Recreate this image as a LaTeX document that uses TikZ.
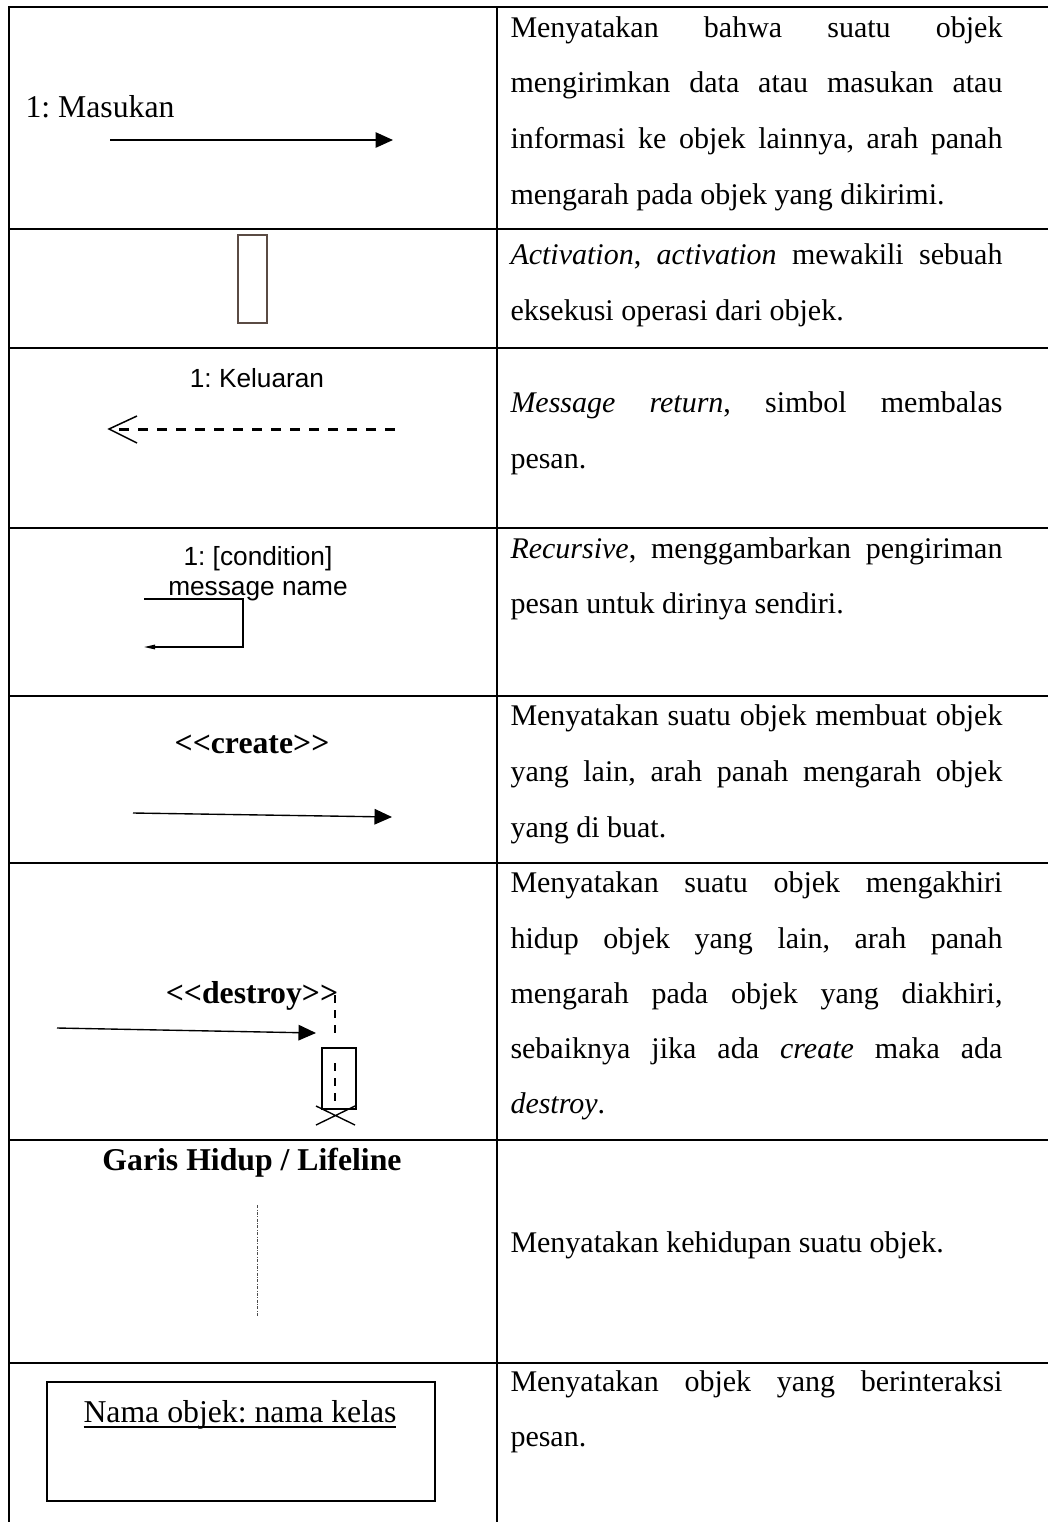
\documentclass[tikz,border=0pt]{standalone}
\usepackage{fontspec}
\setmainfont{Liberation Serif}
\newfontfamily\arialfont{Liberation Sans}
\usetikzlibrary{arrows.meta}
\frenchspacing
\definecolor{actcol}{RGB}{90,75,68}
% guillemet-free stereotype brackets
\newcommand\stereo[1]{<\kern0pt<#1>\kern0pt>}
% underline sitting just below the baseline
\newcommand\ulin[1]{\setbox0\hbox{#1}\rlap{\rule[-2.3pt]{\wd0}{0.55pt}}\box0}
\tikzset{
  tabline/.style={line width=0.8pt, line cap=rect},
  body/.style={anchor=base west, inner sep=0pt, font=\fontsize{12}{14}\selectfont},
  sym/.style={inner sep=0pt, anchor=base, font=\fontsize{12.7}{15}\selectfont},
  symb/.style={inner sep=0pt, anchor=base, font=\fontsize{12.7}{15}\selectfont\bfseries},
  sans/.style={inner sep=0pt, anchor=base, font=\arialfont\fontsize{10.5}{12}\selectfont},
  msg/.style={line width=0.55pt, -{Triangle[length=7pt,width=6.2pt]}},
  thin/.style={line width=0.55pt},
}
% justified and plain lines of the description column
\newcommand\jl[3]{\node[body] (#1) at (510,#2) {\makebox[196.8pt][s]{#3}};}
\newcommand\pl[3]{\node[body] (#1) at (510,#2) {#3};}
\begin{document}
\begin{tikzpicture}[x=0.4pt,y=-0.4pt]
\useasboundingbox (0,0) rectangle (1048,1522);

% table rules
\foreach \yy in {7,229,348,528,696,863,1140,1363}
  \draw[tabline] (9,\yy) -- (1048,\yy);
\draw[tabline] (9,7) -- (9,1522);
\draw[tabline] (497,7) -- (497,1522);

% row 1: message
\node[sym, anchor=base west] (masukan) at (25,117) {1: Masukan};
\coordinate (m1s) at (110,140);
\coordinate (m1e) at (393,140);
\draw[msg] (m1s) -- (m1e);

% row 2: activation
\node[draw=actcol, thin, minimum width=11.6pt, minimum height=35.2pt, inner sep=0pt] (act) at (252.5,279) {};

% row 3: message return
\node[sans] (keluaran) at (257,387) {1: Keluaran};
\coordinate (r3s) at (395,429);
\coordinate (r3e) at (112,429);
\coordinate (r3tip) at (109,429);
\coordinate (r3up) at (137,416);
\coordinate (r3dn) at (137,443);
\draw[line width=1.2pt, dash pattern=on 4pt off 3.6pt] (r3s) -- (r3e);
\draw[line width=0.6pt] (r3up) -- (r3tip) -- (r3dn);

% row 4: recursive
\node[sans] (cond) at (258,565) {1: [condition]};
\node[sans] (msgname) at (258,595) {message name};
\coordinate (rc0) at (144,599);
\coordinate (rc1) at (243,599);
\coordinate (rc2) at (243,647);
\coordinate (rc3) at (144,647);
\draw[line width=0.5pt, -{Triangle[length=4.4pt,width=1.8pt]}] (rc0) -- (rc1) -- (rc2) -- (rc3);

% row 5: create
\node[symb] (create) at (252,753) {\stereo{create}};
\coordinate (c0) at (133,813);
\coordinate (c1) at (392,817);
\draw[msg] (c0) -- (c1);

% row 6: destroy
\node[symb] (destroy) at (252,1003) {\stereo{destroy}};
\coordinate (d0) at (57,1028);
\coordinate (d1) at (316,1033);
\draw[msg] (d0) -- (d1);
\node[draw, thin, minimum width=13.6pt, minimum height=24.4pt, inner sep=0pt] (dbox) at (339,1078.5) {};
\coordinate (dl0) at (335,995);
\coordinate (dl1) at (335,1038);
\coordinate (dl2) at (335,1063);
\coordinate (dl3) at (335,1108);
\draw[line width=0.5pt, dash pattern=on 3.2pt off 2.8pt] (dl0) -- (dl1);
\draw[line width=0.5pt, dash pattern=on 3.2pt off 2.8pt] (dl2) -- (dl3);
\coordinate (x0) at (316,1106);
\coordinate (x1) at (355,1125);
\coordinate (x2) at (316,1125);
\coordinate (x3) at (355,1106);
\draw[thin] (x0) -- (x1) (x2) -- (x3);

% row 7: lifeline
\node[symb] (lifelbl) at (252,1170) {Garis Hidup / Lifeline};
\coordinate (ll0) at (257,1205);
\coordinate (ll1) at (257,1317);
\draw[line width=0.3pt, black!70, dash pattern=on 1.2pt off 0.6pt on 0.3pt off 0.6pt] (ll0) -- (ll1);

% row 8: object
\node[draw, line width=0.7pt, minimum width=155.2pt, minimum height=47.6pt, inner sep=0pt] (objbox) at (241,1441.5) {};
\node[sym] (objname) at (240,1422) {\ulin{Nama objek: nama kelas}};

% description column
\jl{t1a}{37}{Menyatakan bahwa suatu objek}
\jl{t1b}{92}{mengirimkan data atau masukan atau}
\jl{t1c}{148}{informasi ke objek lainnya, arah panah}
\pl{t1d}{204}{mengarah pada objek yang dikirimi.}

\jl{t2a}{264}{\textit{Activation}, \textit{activation} mewakili sebuah}
\pl{t2b}{320}{eksekusi operasi dari objek.}

\jl{t3a}{412}{\textit{Message return}, simbol membalas}
\pl{t3b}{468}{pesan.}

\jl{t4a}{558}{\textit{Recursive}, menggambarkan pengiriman}
\pl{t4b}{613}{pesan untuk dirinya sendiri.}

\jl{t5a}{725}{Menyatakan suatu objek membuat objek}
\jl{t5b}{781}{yang lain, arah panah mengarah objek}
\pl{t5c}{837}{yang di buat.}

\jl{t6a}{892}{Menyatakan suatu objek mengakhiri}
\jl{t6b}{948}{hidup objek yang lain, arah panah}
\jl{t6c}{1003}{mengarah pada objek yang diakhiri,}
\jl{t6d}{1058}{sebaiknya jika ada \textit{create} maka ada}
\pl{t6e}{1113}{\textit{destroy}.}

\pl{t7a}{1252}{Menyatakan kehidupan suatu objek.}

\jl{t8a}{1391}{Menyatakan objek yang berinteraksi}
\pl{t8b}{1446}{pesan.}
\end{tikzpicture}
\end{document}
